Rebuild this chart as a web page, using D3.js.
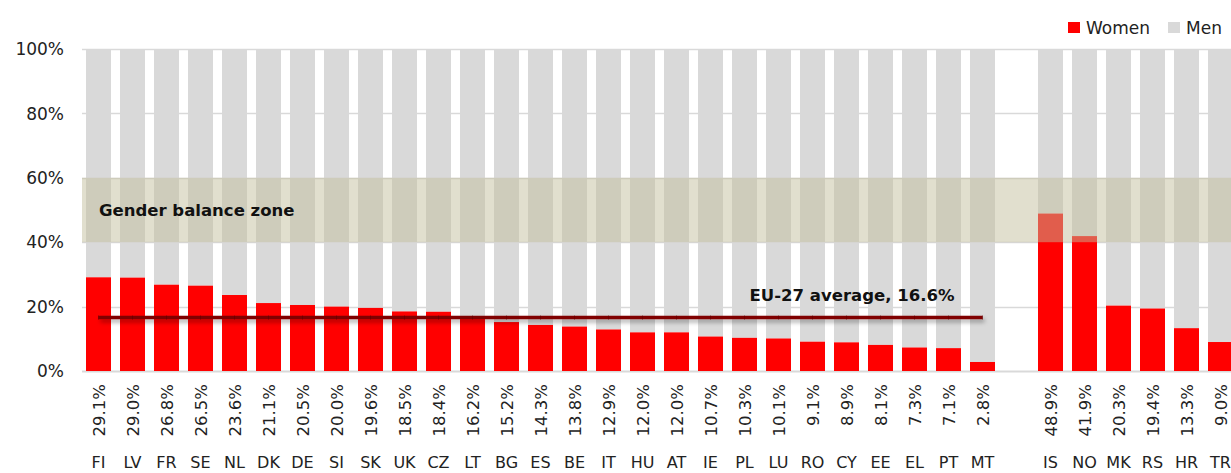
<!DOCTYPE html>
<html>
<head>
<meta charset="utf-8">
<script src="https://cdn.jsdelivr.net/npm/d3@7"></script>
<style>
  html, body { margin: 0; padding: 0; background: #fff; overflow: hidden; }
  svg { display: block; font-family: "DejaVu Sans", sans-serif; }
</style>
</head>
<body>
<svg id="chart" width="1231" height="473"></svg>
<script>
// ---- Data ----
const euCountries = ["FI","LV","FR","SE","NL","DK","DE","SI","SK","UK","CZ","LT","BG","ES","BE","IT","HU","AT","IE","PL","LU","RO","CY","EE","EL","PT","MT"];
const euWomen = [29.1,29.0,26.8,26.5,23.6,21.1,20.5,20.0,19.6,18.5,18.4,16.2,15.2,14.3,13.8,12.9,12.0,12.0,10.7,10.3,10.1,9.1,8.9,8.1,7.3,7.1,2.8];
const otherCountries = ["IS","NO","MK","RS","HR","TR"];
const otherWomen = [48.9,41.9,20.3,19.4,13.3,9.0];
const euAverage = 16.6;
const balanceZone = [40, 60];
const yTicks = [0, 20, 40, 60, 80, 100];
const seriesNames = ["Women", "Men"];

// ---- Setup ----
const svg = d3.select("#chart");
const gapKey = "__gap__";
const categories = [...euCountries, gapKey, ...otherCountries];
const rows = [
  ...euCountries.map((c, i) => ({ c, w: euWomen[i] })),
  ...otherCountries.map((c, i) => ({ c, w: otherWomen[i] }))
];

const x = d3.scaleBand().domain(categories).range([81.5, 1237.5]).paddingInner(0.265).paddingOuter(0.1325);
const y = d3.scaleLinear().domain([0, 100]).range([371, 49]);

const colWomen = "#ff0000", colMen = "#d9d9d9", colGrid = "#d9d9d9";

// defs
const defs = svg.append("defs");
const f = defs.append("filter").attr("id", "shadow").attr("filterUnits", "userSpaceOnUse")
  .attr("x", 0).attr("y", 280).attr("width", 1231).attr("height", 80);
f.append("feDropShadow").attr("dx", 2).attr("dy", 3).attr("stdDeviation", 2).attr("flood-color", "#000").attr("flood-opacity", 0.35);

// gridlines
svg.append("g").selectAll("line").data(yTicks).join("line")
  .attr("x1", 82).attr("x2", 1231)
  .attr("y1", d => Math.round(y(d)) + 0.5).attr("y2", d => Math.round(y(d)) + 0.5)
  .attr("stroke", colGrid).attr("stroke-width", d => d === 0 ? 2 : 1.5);

// y axis labels
svg.append("g").selectAll("text").data(yTicks).join("text")
  .attr("x", 64).attr("y", d => y(d)).attr("dy", "0.36em")
  .attr("text-anchor", "end").attr("font-size", 17).attr("fill", "#222")
  .text(d => d + "%");

// bars
const bars = svg.append("g");
bars.selectAll("rect.men").data(rows).join("rect").attr("class", "men")
  .attr("x", d => x(d.c)).attr("width", x.bandwidth())
  .attr("y", y(100)).attr("height", d => y(d.w) - y(100))
  .attr("fill", colMen);
bars.selectAll("rect.women").data(rows).join("rect").attr("class", "women")
  .attr("x", d => x(d.c)).attr("width", x.bandwidth())
  .attr("y", d => y(d.w)).attr("height", d => y(0) - y(d.w))
  .attr("fill", colWomen);

// gender balance zone
svg.append("rect")
  .attr("x", 82).attr("width", 1231 - 82)
  .attr("y", y(balanceZone[1])).attr("height", y(balanceZone[0]) - y(balanceZone[1]))
  .attr("fill", "rgb(194,190,155)").attr("fill-opacity", 0.49);
svg.append("text").attr("x", 99).attr("y", 216)
  .attr("font-size", 16.5).attr("font-weight", "bold").attr("fill", "#111")
  .text("Gender balance zone");

// EU average line
const line = d3.line().x(d => x(d) + x.bandwidth() / 2).y(() => y(euAverage));
svg.append("path").datum(euCountries).attr("d", line)
  .attr("fill", "none").attr("stroke", "#800000").attr("stroke-width", 3.5)
  .attr("filter", "url(#shadow)");
svg.append("g").selectAll("line").data(euCountries).join("line")
  .attr("x1", d => x(d) + x.bandwidth() / 2).attr("x2", d => x(d) + x.bandwidth() / 2)
  .attr("y1", y(euAverage) - 2).attr("y2", y(euAverage) + 2)
  .attr("stroke", "#600000").attr("stroke-width", 1).attr("stroke-opacity", 0.6);
svg.append("text").attr("x", 852).attr("y", 301)
  .attr("text-anchor", "middle").attr("font-size", 16.5).attr("font-weight", "bold").attr("fill", "#111")
  .text(`EU-27 average, ${euAverage.toFixed(1)}%`);

// value labels (rotated)
svg.append("g").selectAll("text").data(rows).join("text")
  .attr("transform", d => `translate(${x(d.c) + x.bandwidth() / 2 + 1},384) rotate(-90)`)
  .attr("text-anchor", "end").attr("dy", "0.36em")
  .attr("font-size", 16.5).attr("fill", "#222")
  .text(d => d.w.toFixed(1) + "%");

// country labels
svg.append("g").selectAll("text").data(rows).join("text")
  .attr("x", d => x(d.c) + x.bandwidth() / 2).attr("y", 468)
  .attr("text-anchor", "middle").attr("font-size", 16).attr("fill", "#222")
  .text(d => d.c);

// legend
const legend = svg.append("g");
const legendItems = [
  { name: seriesNames[0], color: colWomen, x: 1068 },
  { name: seriesNames[1], color: colMen, x: 1168 }
];
legendItems.forEach(it => {
  legend.append("rect").attr("x", it.x).attr("y", 22).attr("width", 12).attr("height", 11).attr("fill", it.color);
  legend.append("text").attr("x", it.x + 18).attr("y", 34).attr("font-size", 17).attr("fill", "#222").text(it.name);
});
</script>
</body>
</html>
